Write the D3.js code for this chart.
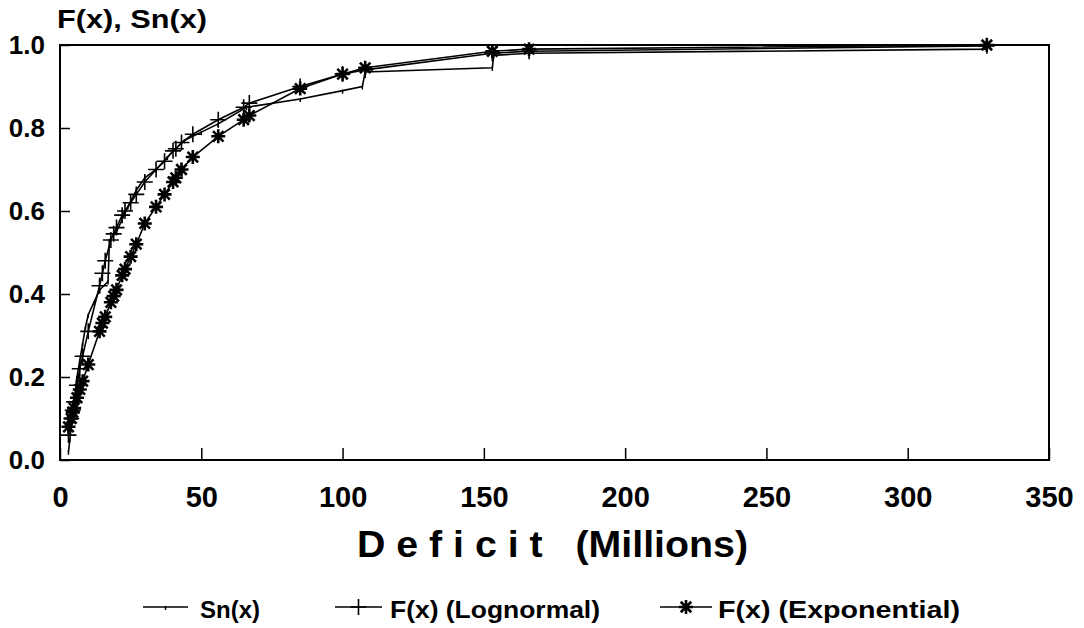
<!DOCTYPE html>
<meta charset="utf-8">
<script src="https://d3js.org/d3.v7.min.js"></script>
<style>
body { margin: 0; background: #fff; }
text { font-family: "Liberation Sans", Arial, sans-serif; font-weight: bold; fill: #000; }
</style>
<div id="chart"></div>
<script>
// Sn(x) - empirical distribution
var snX = [3, 3.5, 4, 4.5, 5, 5.5, 6, 7, 8, 9, 10, 12, 14, 17, 17.5, 20, 22, 24, 27, 30, 34, 38, 41, 44, 50, 56, 66, 85, 100, 107, 108, 153, 153.5, 166, 328, 328.5];
var snY = [0.02, 0.05, 0.08, 0.11, 0.14, 0.17, 0.2, 0.24, 0.28, 0.32, 0.35, 0.38, 0.41, 0.43, 0.53, 0.55, 0.58, 0.61, 0.65, 0.68, 0.70, 0.73, 0.75, 0.77, 0.79, 0.81, 0.85, 0.87, 0.89, 0.90, 0.935, 0.945, 0.975, 0.98, 0.99, 1.0];

// fitted distributions
var fitX = [3, 4, 4.5, 5, 6, 7, 8, 10, 14, 15, 16, 18, 19, 20, 22, 23, 25, 27, 30, 34, 37, 40, 41, 43, 47, 56, 65, 67, 85, 100, 108, 153, 166, 328];
var logY = [0.06, 0.10, 0.12, 0.14, 0.18, 0.22, 0.25, 0.31, 0.42, 0.45, 0.48, 0.53, 0.545, 0.56, 0.59, 0.60, 0.62, 0.64, 0.67, 0.70, 0.72, 0.745, 0.75, 0.765, 0.785, 0.82, 0.85, 0.86, 0.90, 0.93, 0.94, 0.98, 0.985, 0.998];
var expY = [0.08, 0.10, 0.115, 0.125, 0.15, 0.17, 0.19, 0.23, 0.31, 0.33, 0.345, 0.38, 0.395, 0.41, 0.445, 0.46, 0.49, 0.52, 0.57, 0.61, 0.64, 0.67, 0.68, 0.70, 0.73, 0.78, 0.82, 0.83, 0.895, 0.93, 0.945, 0.985, 0.99, 1.0];

var xTicks = [0, 50, 100, 150, 200, 250, 300, 350];
var yTicks = [0, 0.2, 0.4, 0.6, 0.8, 1.0];

var W = 1084, H = 628;
var margin = {top: 45, right: 35, bottom: 168, left: 60},
    width = W - margin.left - margin.right,
    height = H - margin.top - margin.bottom;

var svg = d3.select("#chart").append("svg")
    .attr("width", W).attr("height", H);
var g = svg.append("g")
    .attr("transform", "translate(" + margin.left + "," + margin.top + ")");

var x = d3.scaleLinear().domain([0, 350]).range([0, width]);
var y = d3.scaleLinear().domain([0, 1]).range([height, 0]);

// frame
g.append("rect")
  .attr("width", width).attr("height", height)
  .attr("fill", "none").attr("stroke", "#000").attr("stroke-width", 2);

// y axis
var yAx = g.append("g")
  .call(d3.axisLeft(y).tickValues(yTicks).tickFormat(d3.format(".1f")).tickSize(-10).tickPadding(15));
yAx.select(".domain").remove();
yAx.selectAll("line").attr("stroke-width", 1.5);
yAx.selectAll("text").style("font-size", "26px");

// x axis
var xAx = g.append("g")
  .attr("transform", "translate(0," + height + ")")
  .call(d3.axisBottom(x).tickValues(xTicks).tickSize(-12).tickPadding(26));
xAx.select(".domain").remove();
xAx.selectAll("line").attr("stroke-width", 1.5);
xAx.selectAll("text").style("font-size", "29px");

// titles
svg.append("text").attr("x", 57).attr("y", 28)
  .style("font-size", "26px").attr("textLength", 150).attr("lengthAdjust", "spacingAndGlyphs")
  .text("F(x), Sn(x)");
svg.append("text").attr("x", 357).attr("y", 557)
  .style("font-size", "37px")
  .attr("xml:space", "preserve")
  .attr("textLength", 391).attr("lengthAdjust", "spacingAndGlyphs")
  .text("D e f i c i t   (Millions)");

var line = d3.line().x(function(d) { return x(d[0]); }).y(function(d) { return y(d[1]); });

var sn = snX.map(function(v, i) { return [v, snY[i]]; });
var ln = fitX.map(function(v, i) { return [v, logY[i]]; });
var ex = fitX.map(function(v, i) { return [v, expY[i]]; });

[sn, ln, ex].forEach(function(s) {
  g.append("path").datum(s)
    .attr("fill", "none").attr("stroke", "#000").attr("stroke-width", 1.6)
    .attr("d", line);
});

// marker shapes
function tick(sel, px, py) {
  sel.append("path").attr("d", "M" + px + "," + (py - 1) + "v4")
    .attr("stroke", "#000").attr("stroke-width", 1.5);
}
function plus(sel, px, py, r) {
  sel.append("path").attr("d", "M" + (px - r) + "," + py + "h" + 2 * r + "M" + px + "," + (py - r) + "v" + 2 * r)
    .attr("stroke", "#000").attr("stroke-width", 1.6);
}
function star(sel, px, py, r) {
  var d = "M" + (px - r) + "," + py + "h" + 2 * r +
          "M" + px + "," + (py - r) + "v" + 2 * r +
          "M" + (px - r * 0.75) + "," + (py - r * 0.75) + "l" + 1.5 * r + "," + 1.5 * r +
          "M" + (px + r * 0.75) + "," + (py - r * 0.75) + "l" + (-1.5 * r) + "," + 1.5 * r;
  sel.append("path").attr("d", d).attr("stroke", "#000").attr("stroke-width", 2.6);
}

var mk = g.append("g");
sn.forEach(function(d) { tick(mk, x(d[0]), y(d[1])); });
ln.forEach(function(d) { plus(mk, x(d[0]), y(d[1]), 8); });
ex.forEach(function(d) { star(mk, x(d[0]), y(d[1]), 7); });

// legend
var leg = svg.append("g").attr("transform", "translate(0,610)");
var items = [
  {x0: 143, x1: 188, tx: 200, tw: 0, label: "Sn(x)", m: "tick"},
  {x0: 335, x1: 382, tx: 390, tw: 210, label: "F(x) (Lognormal)", m: "plus"},
  {x0: 660, x1: 712, tx: 718, tw: 242, label: "F(x) (Exponential)", m: "star"}
];
items.forEach(function(it) {
  leg.append("line").attr("x1", it.x0).attr("x2", it.x1).attr("y1", -3).attr("y2", -3)
    .attr("stroke", "#000").attr("stroke-width", 1.6);
  var cx = (it.x0 + it.x1) / 2;
  if (it.m === "tick") tick(leg, cx, -3);
  if (it.m === "plus") plus(leg, cx, -3, 8);
  if (it.m === "star") star(leg, cx, -3, 7);
  var t = leg.append("text").attr("x", it.tx).attr("y", 8).style("font-size", "24px")
    .text(it.label);
  if (it.tw) t.attr("textLength", it.tw).attr("lengthAdjust", "spacingAndGlyphs");
});
</script>
